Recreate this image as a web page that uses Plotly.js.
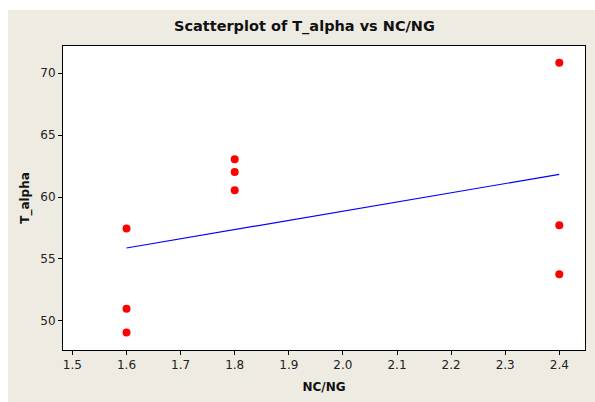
<!DOCTYPE html>
<html>
<head>
<meta charset="utf-8">
<script src="https://cdn.plot.ly/plotly-3.0.1.min.js"></script>
<style>
  html, body { margin: 0; padding: 0; background: #ffffff; }
  #chart { position: absolute; left: 8px; top: 10px; width: 587px; height: 392px; }
</style>
</head>
<body>
<div id="chart"></div>
<script>
// Data
const ncng = [1.6, 1.6, 1.6, 1.8, 1.8, 1.8, 2.4, 2.4, 2.4];
const tAlpha = [57.45, 50.98, 49.05, 63.05, 62.03, 60.55, 70.85, 57.72, 53.75];
const fitX = [1.6, 2.4];
const fitY = [55.88, 61.83];
const xTicks = [1.5, 1.6, 1.7, 1.8, 1.9, 2.0, 2.1, 2.2, 2.3, 2.4];
const yTicks = [50, 55, 60, 65, 70];

const fontFam = 'Tahoma, "DejaVu Sans", Verdana, sans-serif';

const traces = [
  {
    x: fitX, y: fitY, mode: 'lines', type: 'scatter',
    line: { color: '#0000ff', width: 1.2 },
    hoverinfo: 'skip', showlegend: false
  },
  {
    x: ncng, y: tAlpha, mode: 'markers', type: 'scatter',
    marker: { color: '#ff0000', size: 8, line: { width: 0 } },
    showlegend: false
  }
];

const layout = {
  width: 587, height: 392,
  paper_bgcolor: '#eeebe2',
  plot_bgcolor: '#ffffff',
  margin: { l: 55, r: 10, t: 36, b: 52 },
  font: { family: fontFam, size: 12, color: '#222222' },
  title: {
    text: '<b>Scatterplot of T_alpha vs NC/NG</b>',
    font: { family: fontFam, size: 14.5, color: '#111111' },
    x: 0.505, xref: 'container', xanchor: 'center',
    y: 1, yref: 'container', yanchor: 'top', pad: { t: 11 }
  },
  xaxis: {
    range: [1.4826, 2.4475],
    tickvals: xTicks, tickformat: '.1f',
    ticks: 'outside', ticklen: 4, tickwidth: 1, tickcolor: '#000000',
    showgrid: false, zeroline: false,
    showline: true, linecolor: '#000000', linewidth: 1, mirror: true,
    tickfont: { family: fontFam, size: 12, color: '#222222' },
    title: { text: '<b>NC/NG</b>', font: { family: fontFam, size: 12, color: '#111111' }, standoff: 11 }
  },
  yaxis: {
    range: [47.64, 72.2],
    tickvals: yTicks,
    ticks: 'outside', ticklen: 4, tickwidth: 1, tickcolor: '#000000',
    showgrid: false, zeroline: false,
    showline: true, linecolor: '#000000', linewidth: 1, mirror: true,
    tickfont: { family: fontFam, size: 12, color: '#222222' },
    title: { text: '<b>T_alpha</b>', font: { family: fontFam, size: 12, color: '#111111' }, standoff: 8 }
  }
};

Plotly.newPlot('chart', traces, layout, { displayModeBar: false, staticPlot: true });
</script>
</body>
</html>
